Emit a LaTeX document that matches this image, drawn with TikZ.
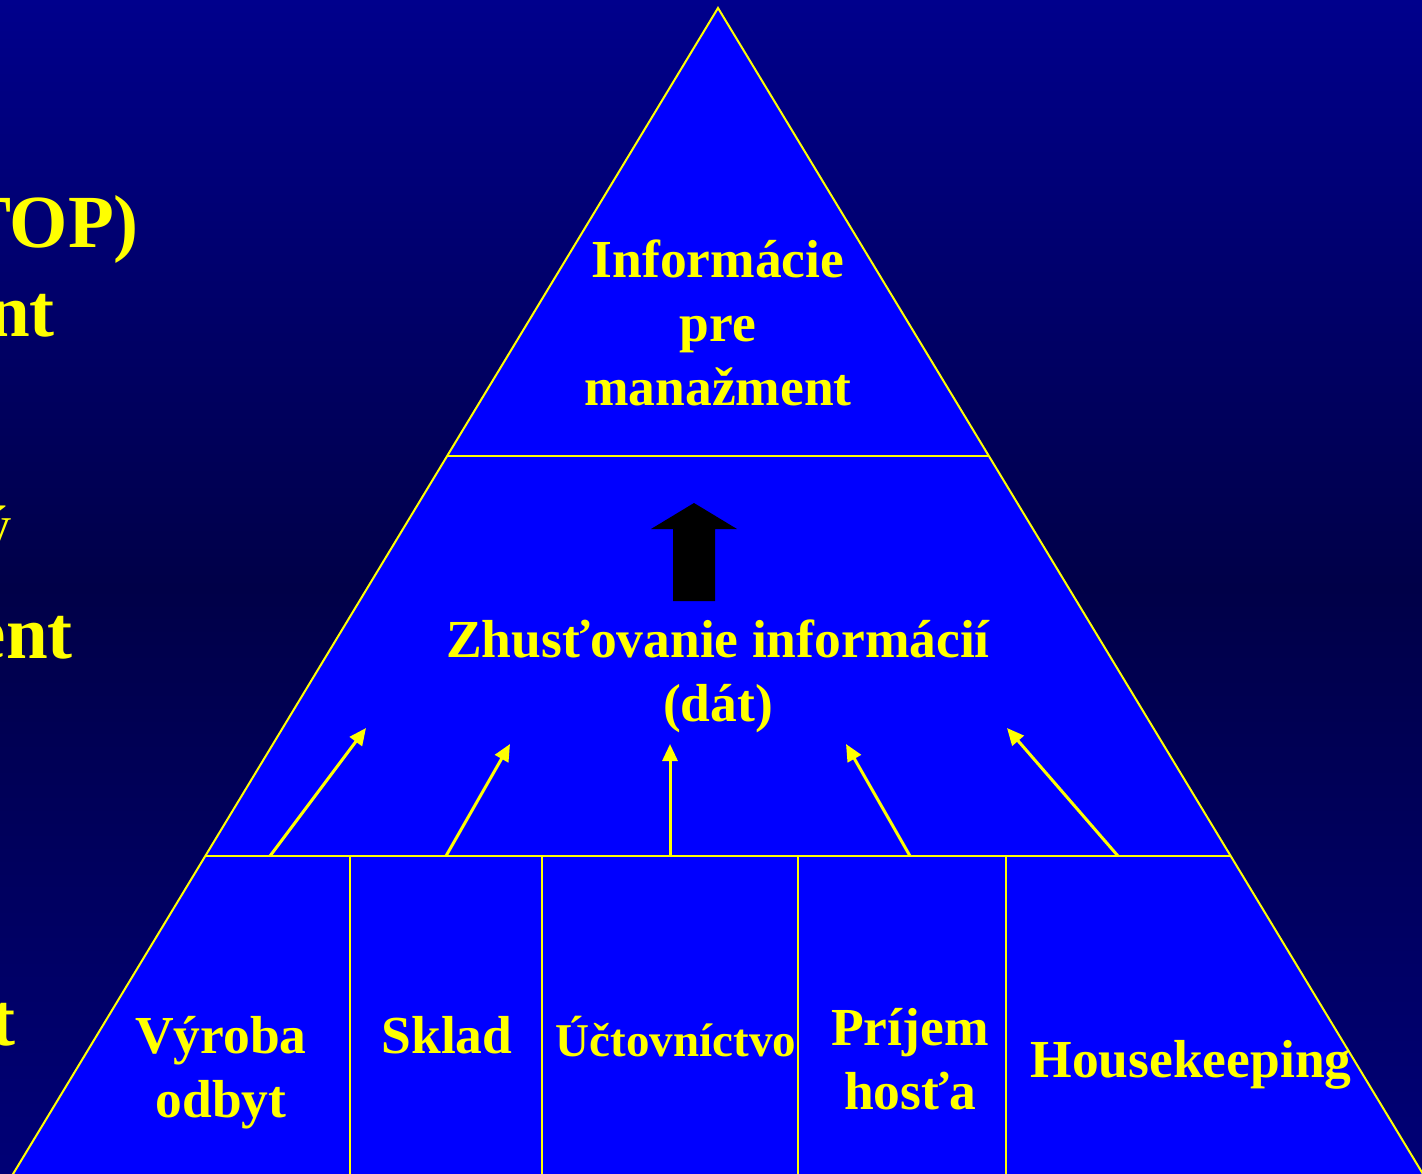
\documentclass[tikz,border=0pt]{standalone}
\usepackage{fontspec}
\setmainfont{Liberation Serif}
\usetikzlibrary{arrows.meta}
\definecolor{bgtop}{RGB}{0,0,140}
\definecolor{bgmid}{RGB}{0,0,72}
\definecolor{bgbot}{RGB}{0,0,118}
\definecolor{pyr}{RGB}{0,0,255}
\definecolor{ylw}{RGB}{255,255,0}
\tikzset{
  edge/.style={draw=ylw, line width=2pt},
  lbl/.style={text=ylw, font=\fontsize{53.5}{64}\selectfont\bfseries, align=center, inner sep=0pt, anchor=base},
  small/.style={text=ylw, font=\fontsize{47}{56}\selectfont\bfseries, inner sep=0pt, anchor=base},
  side/.style={text=ylw, font=\fontsize{75}{90}\selectfont\bfseries, inner sep=0pt, anchor=base east},
  flow/.style={draw=ylw, line width=3pt, -{Triangle[length=17pt,width=15pt]}},
  bigarrow/.style={fill=black}
}
\begin{document}
\begin{tikzpicture}[x=1pt,y=-1pt]
\useasboundingbox (0,0) rectangle (1422,1174);
\clip (0,0) rectangle (1422,1174);
\shade[top color=bgtop, bottom color=bgbot, middle color=bgmid] (0,0) rectangle (1422,1174);
% left fragments
\node[side] (t1) at (139,248) {TOP)};
\node[side] (t2) at (55,337) {nt};
\node[text=ylw, font=\fontsize{54}{64}\selectfont, inner sep=0pt, anchor=base east] (t3) at (12,543) {ý};
\node[side] (t4) at (73,658) {ent};
\node[side] (t5) at (16,1045) {t};
% pyramid
\coordinate (apex) at (718,8);
\coordinate (bl) at (7,1184);
\coordinate (br) at (1429,1184);
\fill[pyr] (apex) -- (br) -- (bl) -- cycle;
\draw[edge] (bl) -- (apex) -- (br);
\coordinate (l1) at (447,456);
\coordinate (r1) at (989,456);
\coordinate (l2) at (206,856);
\coordinate (r2) at (1230,856);
\draw[edge] (l1) -- (r1);
\draw[edge] (l2) -- (r2);
\foreach \x/\n in {350/d1,542/d2,798/d3,1006/d4}{
  \coordinate (\n top) at (\x,856);
  \coordinate (\n bot) at (\x,1180);
  \draw[edge] (\n top) -- (\n bot);
}
% texts (base = baseline of last line)
\node[lbl] (info) at (718,405) {Informácie\\pre\\manažment};
\node[lbl] (zhust) at (718,721) {Zhusťovanie informácií\\(dát)};
\node[lbl] (vyroba) at (221,1117) {Výroba\\odbyt};
\node[lbl] (sklad) at (447,1053) {Sklad};
\node[small] (uct) at (676,1056) {Účtovníctvo};
\node[lbl] (prijem) at (910,1109) {Príjem\\hosťa};
\node[lbl] (house) at (1191,1077) {Housekeeping};
% black arrow
\fill[bigarrow] (651,529) -- (694,503) -- (737,529) -- (715,529) -- (715,601) -- (673,601) -- (673,529) -- cycle;
% yellow arrows
\coordinate (s1) at (270,856); \coordinate (e1) at (366,728);
\coordinate (s2) at (446,856); \coordinate (e2) at (510,744);
\coordinate (s3) at (670,856); \coordinate (e3) at (670,744);
\coordinate (s4) at (910,856); \coordinate (e4) at (846,744);
\coordinate (s5) at (1118,856); \coordinate (e5) at (1007,728);
\foreach \i in {1,...,5}{\draw[flow] (s\i) -- (e\i);}
\end{tikzpicture}
\end{document}
